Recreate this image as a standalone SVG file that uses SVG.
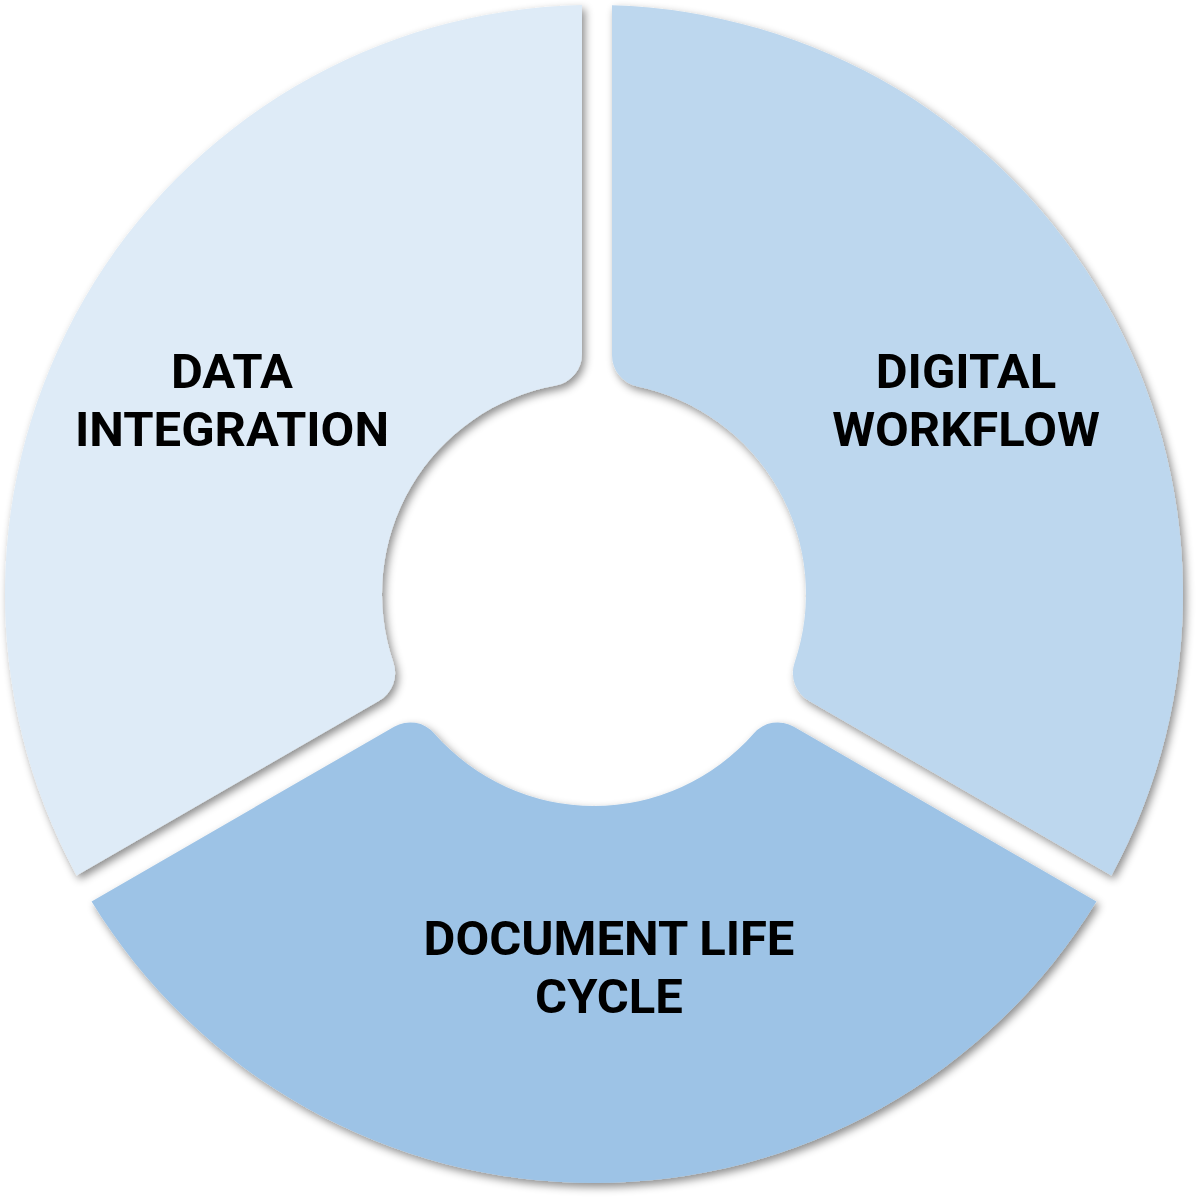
<svg xmlns="http://www.w3.org/2000/svg" width="1200" height="1201" viewBox="0 0 1200 1201">
  <defs>
    <filter id="sh" x="-10%" y="-10%" width="120%" height="120%">
      <feDropShadow dx="3" dy="4" stdDeviation="4" flood-color="#000" flood-opacity="0.45"/>
    </filter>
    <style>
      .seg { filter: url(#sh); }
      .lbl { font-family: Roboto, "Liberation Sans", Arial, sans-serif; font-weight: bold; font-size: 49px; fill: #000; text-anchor: middle; }
    </style>
  </defs>
  <rect width="1200" height="1201" fill="#fff"/>
  <g id="data-integration">
    <path class="seg" fill="#DEEBF7" d="M 76.58 875.41 A 589 589 0 0 1 582 5.12 L 582 354 A 32 32 0 0 1 555.77 385.48 A 212 212 0 0 0 393.43 662.65 A 32 32 0 0 1 379.15 700.72 Z"/>
    <text class="lbl" x="232" y="388">DATA</text>
    <text class="lbl" x="232" y="446">INTEGRATION</text>
  </g>
  <g id="digital-workflow">
    <path class="seg" fill="#BDD7EE" d="M 612 5.27 A 589 589 0 0 1 1111.42 875.41 L 808.85 700.72 A 32 32 0 0 1 794.57 662.65 A 212 212 0 0 0 637.44 386.5 A 32 32 0 0 1 612 355.18 Z"/>
    <text class="lbl" x="966" y="388">DIGITAL</text>
    <text class="lbl" x="966" y="446">WORKFLOW</text>
  </g>
  <g id="document-life-cycle">
    <path class="seg" fill="#9DC3E6" d="M 1096.42 901.39 A 589 589 0 0 1 91.58 901.39 L 394.15 726.71 A 32 32 0 0 1 434.26 733.38 A 212 212 0 0 0 753.74 733.38 A 32 32 0 0 1 793.85 726.71 Z"/>
    <text class="lbl" x="609" y="955">DOCUMENT LIFE</text>
    <text class="lbl" x="609" y="1013">CYCLE</text>
  </g>
  <g id="connectors"/>
</svg>
